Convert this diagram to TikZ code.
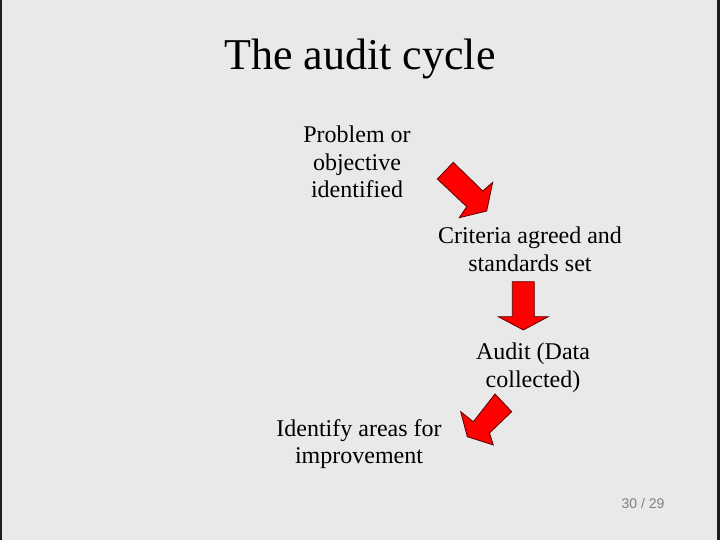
\documentclass[tikz,border=0pt]{standalone}
\usepackage{fontspec}
\setmainfont{Liberation Serif}
\newfontfamily\pnfont{Liberation Sans}
\definecolor{bgc}{RGB}{233,233,233}
\definecolor{framec}{RGB}{30,30,30}
\definecolor{arrowred}{RGB}{255,0,0}
\definecolor{arrowedge}{RGB}{90,0,0}
\definecolor{pagec}{RGB}{128,128,128}
\tikzset{
  bodytext/.style={inner sep=0pt, align=center, font=\fontsize{24}{27.6}\selectfont},
  titletext/.style={inner sep=0pt, font=\fontsize{44}{50}\selectfont},
  blockarrow/.style={fill=arrowred, draw=arrowedge, line width=0.8pt, line join=miter},
}
\begin{document}
\begin{tikzpicture}[x=1pt,y=-1pt]
\fill[bgc] (0,0) rectangle (720,540);
\useasboundingbox (0,0) rectangle (720,540);
\fill[framec] (0,0) rectangle (2,540);
\fill[framec] (717,0) rectangle (720,540);
\node[titletext] (title) at (360,59) {The audit cycle};
\node[bodytext] (problem) at (357,162) {Problem or\\objective\\identified};
\node[bodytext] (criteria) at (530,249) {Criteria agreed and\\standards set};
\node[bodytext] (audit) at (533,368) {Audit (Data\\collected)};
\node[bodytext] (identify) at (359,444) {Identify areas for\\improvement};
\node[inner sep=0pt, font=\pnfont\fontsize{14}{16}\selectfont, text=pagec] (page) at (643,503) {30 / 29};
% arrow 1 (down-right)
\draw[blockarrow] (437.3,179) -- (453.3,162.3) -- (482.7,191) -- (492.7,182.3) -- (486.7,211) -- (459.3,217.7) -- (466.7,206.7) -- cycle;
% arrow 2 (down)
\draw[blockarrow] (512.3,281.7) -- (534.3,281.7) -- (534.3,316.7) -- (548.3,316.7) -- (523.3,330) -- (498.3,316.7) -- (512.3,316.7) -- cycle;
% arrow 3 (down-left)
\draw[blockarrow] (495,394) -- (511.7,411.7) -- (489.5,433) -- (493.3,445) -- (467.3,436.7) -- (460.7,411.7) -- (473.3,421.7) -- cycle;
\end{tikzpicture}
\end{document}
